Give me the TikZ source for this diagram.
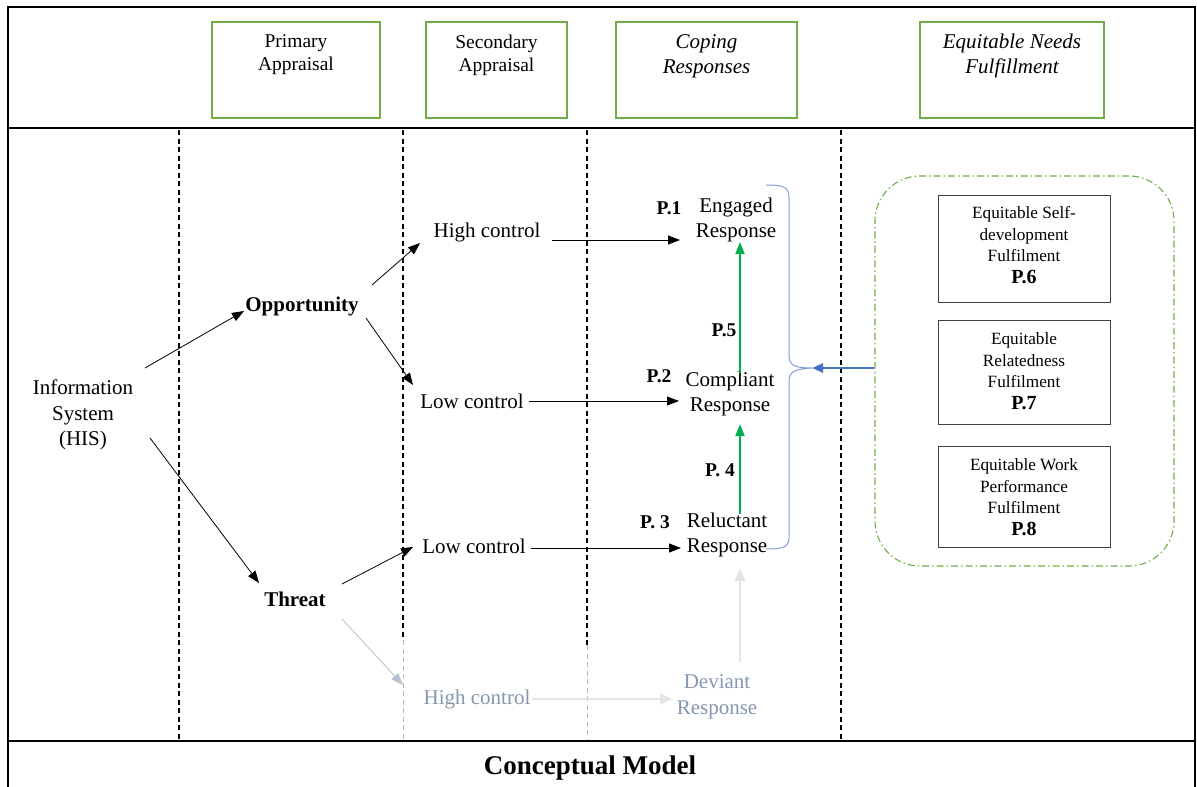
\documentclass[tikz,border=0pt]{standalone}
\usepackage{fontspec}
\setmainfont{Liberation Serif}
\usetikzlibrary{arrows.meta,calc}
\definecolor{hdrgreen}{HTML}{70AD47}
\definecolor{arrgreen}{HTML}{00B050}
\definecolor{bracebl}{HTML}{7F9FD8}
\definecolor{arrblue}{HTML}{4472C4}
\definecolor{fadetxt}{HTML}{8496B0}
\definecolor{fadearr}{HTML}{B4C0D0}
\definecolor{pale}{HTML}{E4E4E4}
\definecolor{boxgray}{HTML}{404040}
\begin{document}
\begin{tikzpicture}[x=1pt,y=-1pt,
  frame/.style={line width=2.6pt},
  sep/.style={dashed, dash pattern=on 5pt off 3.5pt, line width=1.2pt},
  sepfade/.style={dashed, dash pattern=on 5pt off 3.5pt, line width=1pt, draw=gray!55},
  hdrbox/.style={draw=hdrgreen, line width=2pt, minimum height=96pt, inner sep=0pt},
  hdrtxt/.style={font=\fontsize{19.5}{23}\selectfont, align=center, inner sep=0pt},
  hdrital/.style={font=\itshape\fontsize{21}{25}\selectfont, align=center, inner sep=0pt},
  lbl/.style={font=\fontsize{21}{25.5}\selectfont, align=center, inner sep=0pt},
  bold/.style={font=\bfseries\fontsize{21}{25}\selectfont, inner sep=0pt},
  plbl/.style={font=\bfseries\fontsize{19.5}{23}\selectfont, inner sep=0pt},
  fbox/.style={draw=boxgray, line width=1pt, minimum width=172pt, inner sep=0pt},
  ftxt/.style={font=\fontsize{17.2}{21.5}\selectfont, align=center, inner sep=0pt},
  arr/.style={-{Triangle[length=12pt,width=9pt]}, line width=0.8pt},
  garr/.style={-{Triangle[length=12pt,width=9pt]}, line width=2pt, draw=arrgreen, color=arrgreen},
]
\useasboundingbox (0,0) rectangle (1197,787);

% outer frame and section rules
\draw[frame] (8,7) -- (1195,7);
\draw[frame] (8,6) -- (8,787);
\draw[line width=2pt] (1194.5,6) -- (1194.5,787);
\draw[line width=2pt] (8,128) -- (1195,128);
\draw[frame] (8,741) -- (1195,741);

% column separators
\draw[sep] (179,130) -- (179,740);
\draw[sep] (403,130) -- (403,640);
\draw[sepfade] (403,640) -- (403,740);
\draw[sep] (587,130) -- (587,645);
\draw[sepfade] (587,645) -- (587,740);
\draw[sep] (841,130) -- (841,740);

% column headers
\node[hdrbox, minimum width=168pt] (h1) at (296,70) {};
\node[hdrtxt] (h1t) at (296,55) {Primary\\Appraisal};
\node[hdrbox, minimum width=141pt] (h2) at (496.5,70) {};
\node[hdrtxt] (h2t) at (496.5,55) {Secondary\\Appraisal};
\node[hdrbox, minimum width=181pt] (h3) at (706.5,70) {};
\node[hdrital] (h3t) at (706.5,56) {Coping\\Responses};
\node[hdrbox, minimum width=184pt] (h4) at (1012,70) {};
\node[hdrital] (h4t) at (1012,56) {Equitable Needs\\Fulfillment};

% appraisal nodes
\node[lbl] (his) at (83,415) {Information\\System\\(HIS)};
\node[bold] (opp) at (302,306) {Opportunity};
\node[bold] (thr) at (295,599) {Threat};
\node[lbl] (hc1) at (487,232) {High control};
\node[lbl] (lc1) at (472,401) {Low control};
\node[lbl] (lc2) at (474,546) {Low control};
\node[lbl, text=fadetxt] (hc2) at (477,699) {High control};

% coping responses
\node[lbl] (eng) at (736,220) {Engaged\\Response};
\node[lbl] (com) at (730,394) {Compliant\\Response};
\node[lbl] (rel) at (727,535) {Reluctant\\Response};
\node[lbl, text=fadetxt] (dev) at (717,697) {Deviant\\Response};

% proposition labels
\node[plbl] (p1) at (669,208) {P.1};
\node[plbl] (p2) at (659,376) {P.2};
\node[plbl] (p3) at (655,522) {P. 3};
\node[plbl] (p5) at (724,330) {P.5};
\node[plbl] (p4) at (720,470) {P. 4};

% appraisal paths
\draw[arr] ($(his)+(62,-47)$) -- ($(opp)+(-58,5)$);
\draw[arr] ($(his)+(67,23)$) -- ($(thr)+(-36,-16)$);
\draw[arr] ($(opp)+(70,-21)$) -- ($(hc1)+(-67,11)$);
\draw[arr] ($(opp)+(64,12)$) -- ($(lc1)+(-59,-16)$);
\draw[arr] ($(thr)+(47,-15)$) -- ($(lc2)+(-61,1)$);
\draw[arr, draw=fadearr, color=fadearr] ($(thr)+(47,20)$) -- ($(hc2)+(-74,-14)$);

% control to response
\draw[arr] ($(hc1)+(65,8)$) -- ($(eng)+(-56,20)$);
\draw[arr] ($(lc1)+(57,0)$) -- ($(com)+(-51,7)$);
\draw[arr] ($(lc2)+(57,2)$) -- ($(rel)+(-46,13)$);
\draw[-{Triangle[length=12pt,width=11pt]}, line width=2.5pt, draw=pale, color=pale] ($(hc2)+(55,0)$) -- ($(dev)+(-45,2)$);
\draw[-{Triangle[length=12pt,width=11pt]}, line width=1.2pt, draw=pale, color=pale] ($(dev)+(23,-35)$) -- ($(rel)+(13,34)$);

% transitions between responses
\draw[garr] ($(com)+(10,-21)$) -- ($(eng)+(4,22)$);
\draw[garr] ($(rel)+(13,-21)$) -- ($(com)+(10,30)$);

% brace gathering the responses
\coordinate (btip) at (812,368);
\draw[bracebl, line width=1pt]
  (766,185) .. controls (784,185) and (789,187) .. (789,198)
  -- (789,356) .. controls (789,366) and (796,368) .. (btip)
  .. controls (796,369) and (789,371) .. (789,381)
  -- (789,537) .. controls (789,547) and (784,549) .. (766,549);

% needs fulfilment group
\node[draw=hdrgreen, dash pattern=on 7pt off 3pt on 1.5pt off 3pt, line width=1.1pt,
      rounded corners=45pt, minimum width=299pt, minimum height=390pt] (grp) at (1024.5,371) {};
\node[fbox, minimum height=107pt] (b1) at (1024,248.5) {};
\node[ftxt] (b1t) at (1024,245) {Equitable Self-\\development\\Fulfilment\\\textbf{\fontsize{20}{21.5}\selectfont P.6}};
\node[fbox, minimum height=104pt] (b2) at (1024,372) {};
\node[ftxt] (b2t) at (1024,371) {Equitable\\Relatedness\\Fulfilment\\\textbf{\fontsize{20}{21.5}\selectfont P.7}};
\node[fbox, minimum height=101pt] (b3) at (1024,496.5) {};
\node[ftxt] (b3t) at (1024,497) {Equitable Work\\Performance\\Fulfilment\\\textbf{\fontsize{20}{21.5}\selectfont P.8}};

\draw[-{Triangle[length=11pt,width=9pt]}, line width=2.5pt, draw=arrblue, color=arrblue]
  ($(grp.west)+(0,-3)$) -- (btip);

% caption band
\node[font=\bfseries\fontsize{27}{30}\selectfont, inner sep=0pt] (cap) at (590,768) {Conceptual Model};
\end{tikzpicture}
\end{document}
